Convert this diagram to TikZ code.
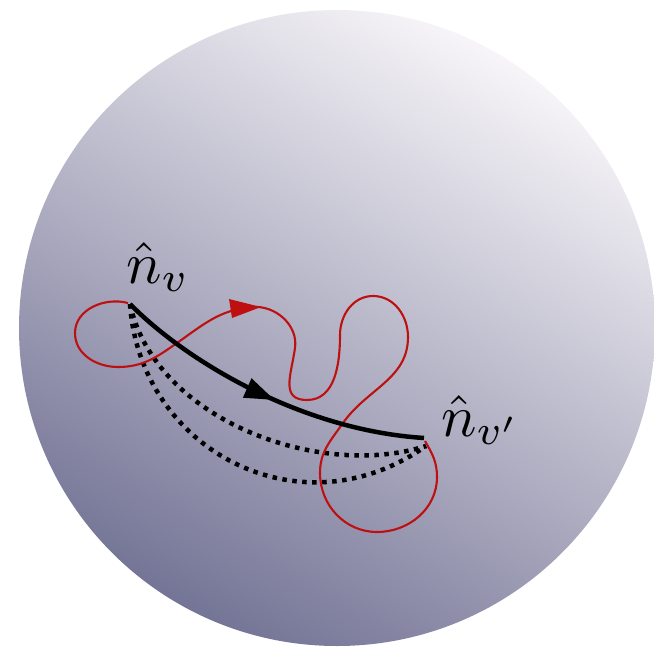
\documentclass[tikz,border=0pt]{standalone}
\usetikzlibrary{arrows.meta,decorations.markings}
\definecolor{sphlight}{RGB}{247,245,248}
\definecolor{sphmid}{RGB}{198,184,205}
\definecolor{sphdark}{RGB}{116,116,150}
\definecolor{pathred}{RGB}{190,16,16}
\tikzset{
  mainarc/.style={line width=4.5pt, black, line cap=butt},
  dotarc/.style={line width=4.5pt, black, dash pattern=on 4.5pt off 5.5pt},
  redpath/.style={line width=2.1pt, pathred},
  lbl/.style={scale=5.9, inner sep=0pt},
}
\begin{document}
\begin{tikzpicture}[x=1pt,y=-1pt]
\useasboundingbox (0,0) rectangle (654,648);
\begin{scope}
  \clip (337,328) circle[radius=318];
  \shade[transform canvas={rotate around={-30:(337,328)}}, top color=sphlight, middle color=sphmid, bottom color=sphdark]
    (19,10) rectangle (655,646);
\end{scope}
\coordinate (nv) at (130,304);
\coordinate (nvp) at (424,438);
\coordinate (nvd) at (426,446);
\node[lbl, anchor=base west] (lv) at (125,283) {$\hat n_v$};
\node[lbl, anchor=base west] (lvp) at (440,436) {$\hat n_{v'}$};
% dotted alternatives
\draw[dotarc] (nv) .. controls (155,420) and (320,480) .. (nvd);
\draw[dotarc] (nv) .. controls (140,450) and (300,535) .. (nvd);
% red random path
\coordinate (rA) at (128,303);
\coordinate (rB) at (75,333);
\coordinate (rC) at (118,367);
\coordinate (rD) at (177,343);
\coordinate (rE) at (252,307);
\coordinate (rF) at (295,348);
\coordinate (rG) at (307,400);
\coordinate (rH) at (340,335);
\coordinate (rI) at (373,296);
\coordinate (rJ) at (408,337);
\coordinate (rK) at (343,423);
\coordinate (rL) at (320,473);
\coordinate (rM) at (377,532);
\coordinate (rN) at (437,477);
\coordinate (rO) at (425,441);
\draw[redpath] (rA) to[out=165,in=90] (rB) to[out=270,in=180] (rC)
  to[out=0,in=215] (rD) to[out=35,in=185] (rE) to[out=5,in=82] (rF)
  to[out=262,in=180,looseness=1.3] (rG) to[out=0,in=270] (rH) to[out=90,in=180] (rI)
  to[out=0,in=90] (rJ) to[out=270,in=55] (rK) to[out=235,in=90] (rL)
  to[out=270,in=180] (rM) to[out=0,in=270] (rN) to[out=90,in=300] (rO);
\fill[pathred] (261,307) -- (229,299) -- (232,318) -- cycle;
% main arc with arrow
\draw[mainarc, postaction={decorate}, decoration={markings, mark=at position 0.53 with {\arrow{Triangle[length=30pt,width=20pt]}}}]
  (nv) .. controls (185,360) and (300,430) .. (nvp);
\end{tikzpicture}
\end{document}
